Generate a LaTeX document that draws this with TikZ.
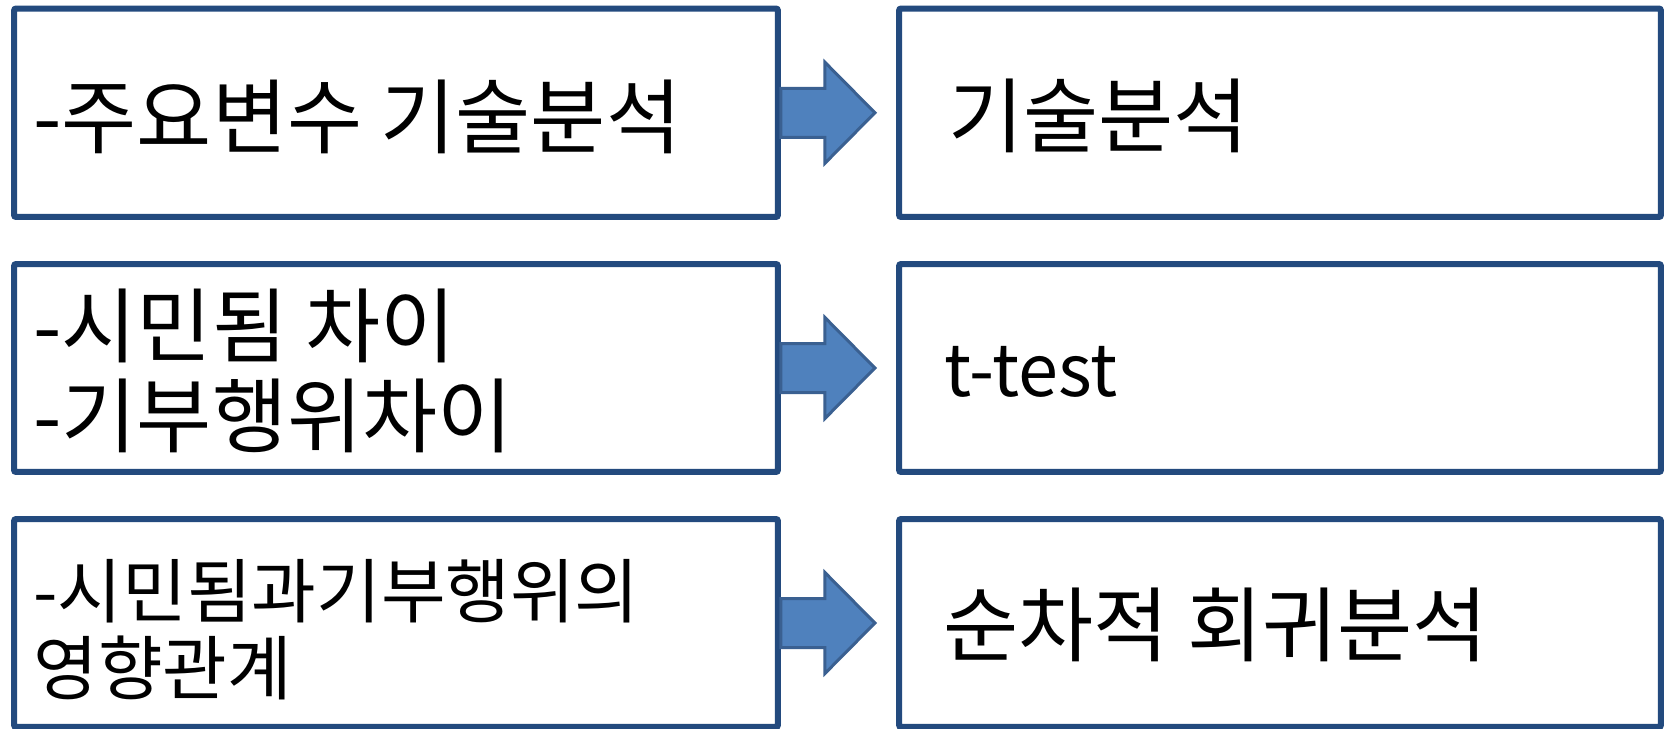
\documentclass[tikz,border=0pt]{standalone}
\usepackage{fontspec}
\setmainfont{Noto Sans CJK KR}
\usetikzlibrary{calc}
\definecolor{boxblue}{RGB}{35,74,126}
\definecolor{arrfill}{RGB}{79,129,189}
\definecolor{arrline}{RGB}{58,96,145}
\begin{document}
\begin{tikzpicture}[x=0.02cm,y=-0.02cm,
  box/.style={draw=boxblue,line width=0.12cm,rounded corners=0.04cm,fill=white,inner sep=0pt},
  txt/.style={anchor=base west,inner sep=0pt,font=\fontsize{46.5}{56}\selectfont},
  txts/.style={anchor=base west,inner sep=0pt,font=\fontsize{40}{48}\selectfont},
  txtl/.style={anchor=base west,inner sep=0pt,font=\fontsize{41}{49}\selectfont},
  blockarrow/.style={fill=arrfill,draw=arrline,line width=0.06cm,line join=miter}]
\useasboundingbox (0,0) rectangle (1667,728);
% boxes
\node[box,minimum width=15.28cm,minimum height=4.17cm] (l1) at (396,112.75) {};
\node[box,minimum width=15.24cm,minimum height=4.17cm] (r1) at (1280,112.75) {};
\node[box,minimum width=15.28cm,minimum height=4.16cm] (l2) at (396,368) {};
\node[box,minimum width=15.24cm,minimum height=4.16cm] (r2) at (1280,368) {};
\node[box,minimum width=15.28cm,minimum height=4.16cm] (l3) at (396,623) {};
\node[box,minimum width=15.24cm,minimum height=4.16cm] (r3) at (1280,623) {};
% arrows
\foreach \a/\b in {l1/r1,l2/r2,l3/r3}{
  \draw[blockarrow] ($(\a.east)+(0,-24.5)$) -- ($(\a.east)+(44,-24.5)$) -- ($(\a.east)+(44,-50.5)$)
    -- ($(\a.east)+(94,0)$) -- ($(\a.east)+(44,50.5)$) -- ($(\a.east)+(44,24.5)$)
    -- ($(\a.east)+(0,24.5)$) -- cycle;
}
% texts
\node[txt] (t1) at (33,147) {-주요변수 기술분석};
\node[txt] (t2a) at (33,356) {-시민됨 차이};
\node[txt] (t2b) at (33,446) {-기부행위차이};
\node[txts] (t3a) at (33,617) {-시민됨과기부행위의};
\node[txts] (t3b) at (33,694) {영향관계};
\node[txt] (u1) at (948,146) {기술분석};
\node[txtl] (u2) at (944,396) {t-test};
\node[txt] (u3) at (943,655) {순차적 회귀분석};
\end{tikzpicture}
\end{document}
